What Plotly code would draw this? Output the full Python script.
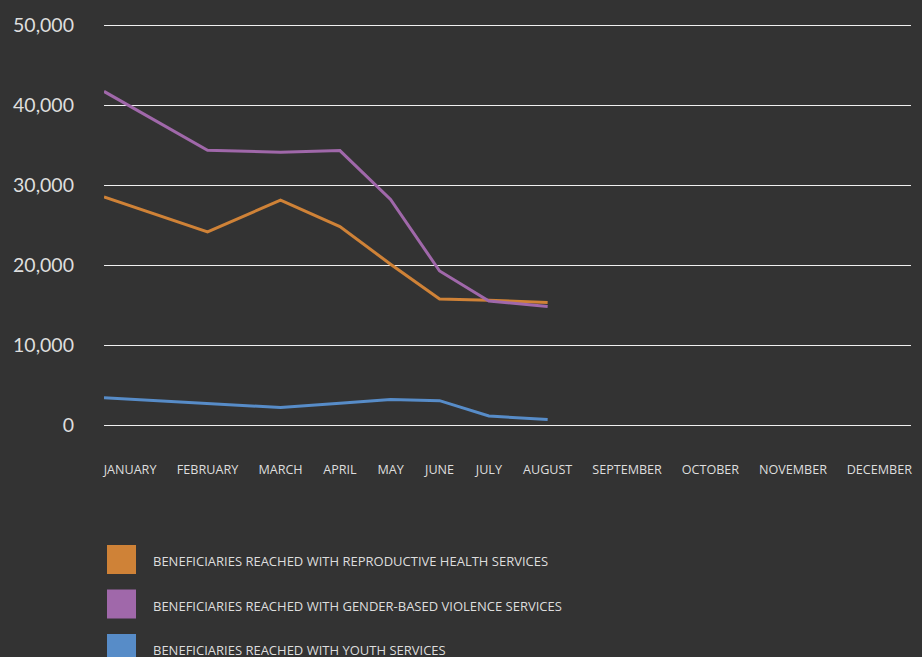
import plotly.graph_objects as go

months = ["JANUARY", "FEBRUARY", "MARCH", "APRIL", "MAY", "JUNE", "JULY",
          "AUGUST", "SEPTEMBER", "OCTOBER", "NOVEMBER", "DECEMBER"]
data_months = months[:8]

reproductive = [28500, 24150, 28100, 24800, 20100, 15750, 15600, 15300]
gbv = [41700, 34350, 34100, 34300, 28200, 19250, 15500, 14800]
youth = [3420, 2650, 2180, 2720, 3200, 3040, 1120, 680]

series_names = [
    "BENEFICIARIES REACHED WITH REPRODUCTIVE HEALTH SERVICES",
    "BENEFICIARIES REACHED WITH GENDER-BASED VIOLENCE SERVICES",
    "BENEFICIARIES REACHED WITH YOUTH SERVICES",
]
y_ticks = [0, 10000, 20000, 30000, 40000, 50000]

# ---- layout / styling ----
W, H = 922, 657
ML, MR, MT, MB = 104, 11, 23, 230
PLOT_W = W - ML - MR
PLOT_H = H - MT - MB
Y_PAD = 250  # two pixels of headroom so the 0 and 50,000 gridlines are drawn
BG = "#333333"
COLORS = ["#CF8237", "#A068AA", "#578CC8"]
TXT = "#DEDEDE"
GRID = "#F0F0F0"
TICK_SIZE = 12.6

# Month labels are spread across the plot width (space-between),
# so estimate each label's width from approximate uppercase glyph widths.
GLYPH_EM = {"A": .633, "B": .647, "C": .631, "D": .730, "E": .556, "F": .519,
            "G": .728, "H": .738, "I": .279, "J": .34, "K": .614, "L": .519,
            "M": .902, "N": .754, "O": .779, "P": .602, "R": .618, "S": .549,
            "T": .553, "U": .729, "V": .592, "W": .924, "Y": .560}
def text_w(s, size=12.2):
    return sum(GLYPH_EM.get(c, .6) for c in s) * size

widths = [text_w(m) for m in months]
gap = (PLOT_W - sum(widths)) / (len(months) - 1)
lefts, centers = [], []
pos = 0.0
for w in widths:
    lefts.append(pos)
    centers.append(pos + w / 2)
    pos += w + gap
# first point sits at the left edge of the plot, others over their label
point_x = [lefts[0]] + centers[1:len(data_months)]

fig = go.Figure()
for name, vals, col in zip(series_names, [reproductive, gbv, youth], COLORS):
    fig.add_trace(go.Scatter(x=point_x, y=vals, mode="lines", name=name,
                             line=dict(color=col, width=3),
                             cliponaxis=False, showlegend=False))

def px_x(p):
    return (p - ML) / PLOT_W
def px_y(p):
    return (H - MB - p) / PLOT_H

shapes, annotations = [], []
for i, (name, col) in enumerate(zip(series_names, COLORS)):
    top = 545 + 44.5 * i
    shapes.append(dict(type="rect", xref="paper", yref="paper",
                       x0=px_x(107), x1=px_x(136), y0=px_y(top), y1=px_y(top + 29),
                       fillcolor=col, line=dict(width=0)))
    annotations.append(dict(xref="paper", yref="paper", x=px_x(151), y=px_y(top + 16),
                            xanchor="left", yanchor="middle", text=name, showarrow=False,
                            font=dict(family="Open Sans", size=13, color=TXT)))

fig.update_layout(
    width=W, height=H,
    margin=dict(l=ML, r=MR, t=MT, b=MB, pad=0),
    paper_bgcolor=BG, plot_bgcolor=BG,
    shapes=shapes, annotations=annotations,
    xaxis=dict(range=[0, PLOT_W], tickmode="array", tickvals=centers, ticktext=months,
               showgrid=False, zeroline=False, showline=False, ticks="",
               ticklabelstandoff=33,
               tickfont=dict(family="Open Sans", size=TICK_SIZE, color=TXT)),
    yaxis=dict(range=[-Y_PAD, 50000 + Y_PAD], tickmode="array", tickvals=y_ticks,
               ticktext=[f"{v:,}" for v in y_ticks],
               showgrid=True, gridcolor=GRID, gridwidth=1,
               zeroline=False, showline=False, ticks="",
               ticklabelstandoff=29,
               tickfont=dict(family="Lato", size=19.5, color=TXT)),
)

fig.write_html("out.html", config={"displayModeBar": False},
               post_script="document.body.style.margin='0';document.body.style.background='#333333';")
